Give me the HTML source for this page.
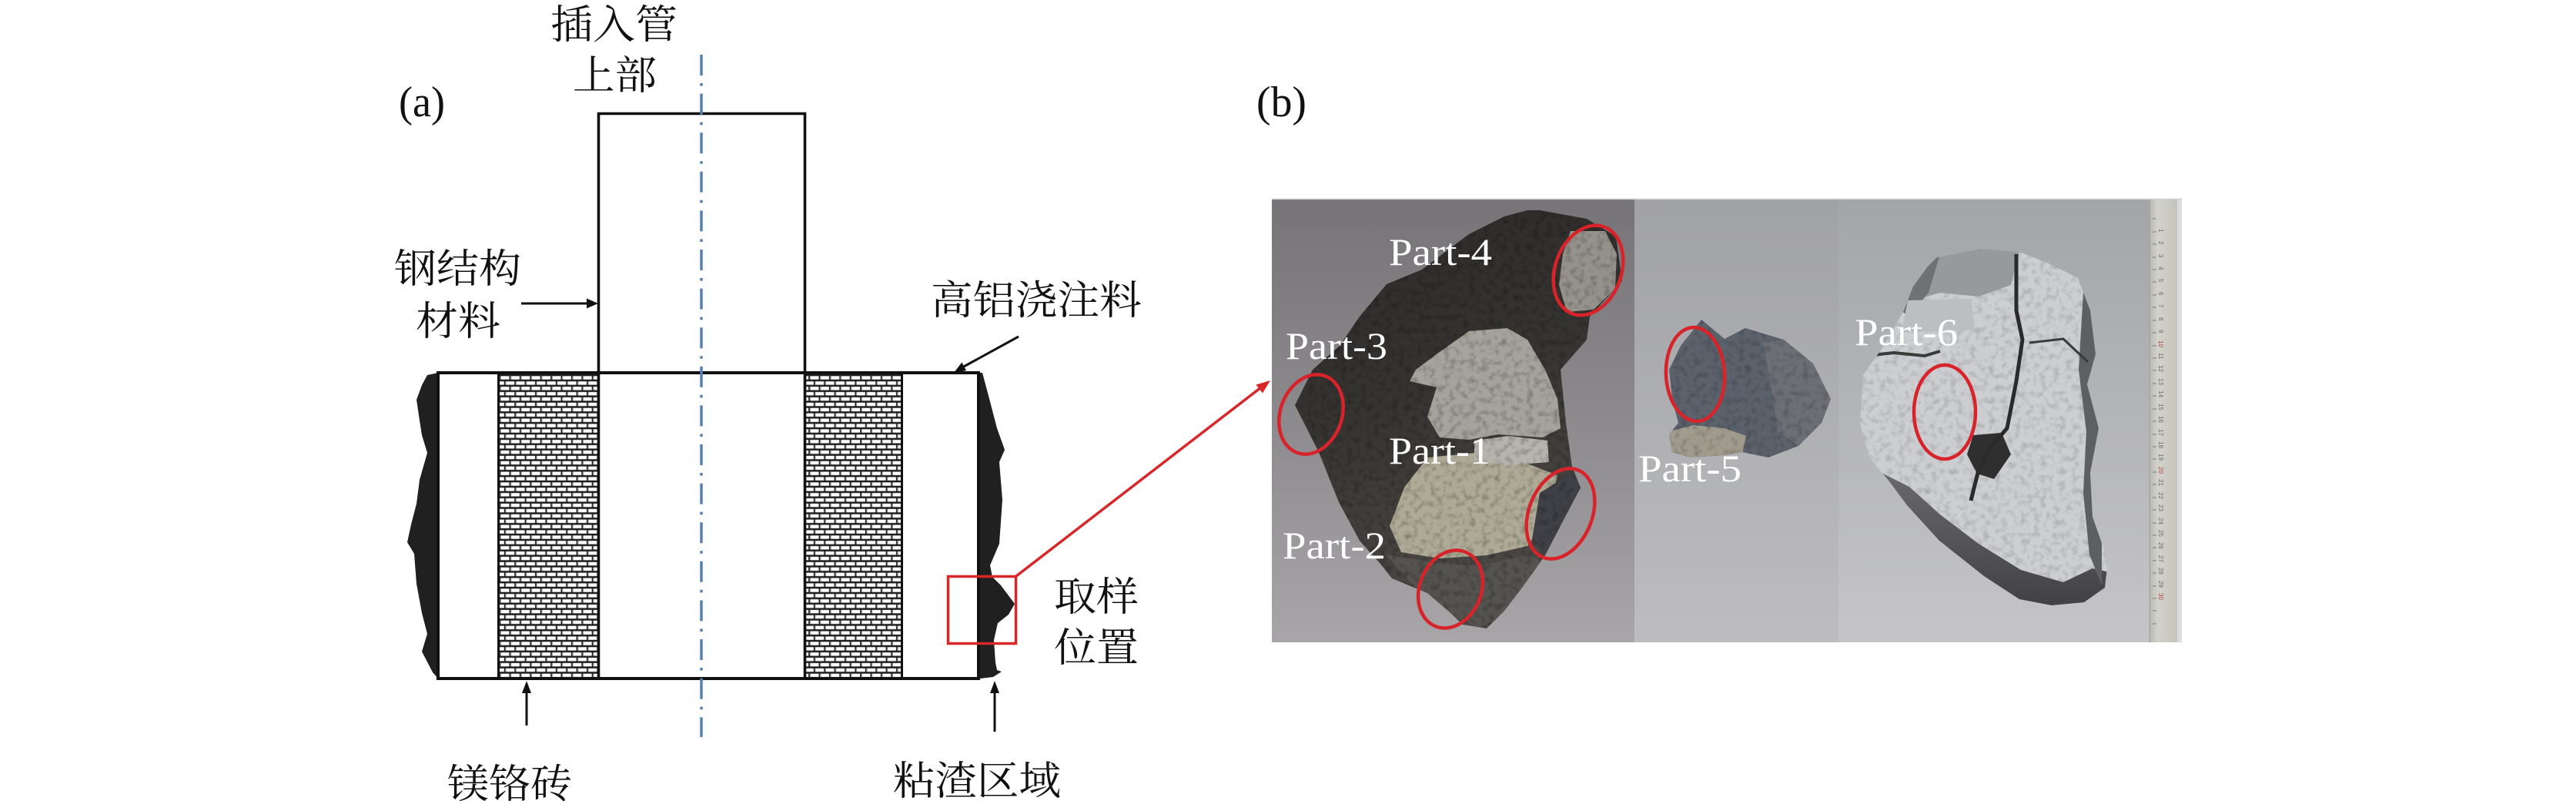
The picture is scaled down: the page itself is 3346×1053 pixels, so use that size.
<!DOCTYPE html>
<html><head><meta charset="utf-8"><style>
html,body{margin:0;padding:0;background:#fff;}
svg{display:block;}
.cjk{font-family:"Noto Serif CJK SC","Noto Serif CJK JP","Liberation Serif",serif;font-size:52px;fill:#111;}
.lat{font-family:"Liberation Serif",serif;font-size:56px;fill:#111;}
.part{font-family:"Liberation Serif",serif;font-size:50px;fill:#fff;}
.rn{font-family:"Liberation Sans",sans-serif;font-size:8px;fill:#6a6a66;}
</style></head><body>
<svg width="3346" height="1053" viewBox="0 0 3346 1053" xmlns="http://www.w3.org/2000/svg">
<defs>
  <pattern id="brick" patternUnits="userSpaceOnUse" x="649" y="487" width="13.4" height="13.8">
    <rect x="0" y="0" width="13.4" height="13.8" fill="#1e1e1e"/>
    <rect x="1.6" y="1.3" width="10.9" height="4.4" fill="#ffffff"/>
    <rect x="0.6" y="1.3" width="1.2" height="4.4" fill="#9a9a9a"/>
    <rect x="-5.1" y="8.2" width="10.9" height="4.4" fill="#ffffff"/>
    <rect x="8.3" y="8.2" width="10.9" height="4.4" fill="#ffffff"/>
    <rect x="7.3" y="8.2" width="1.2" height="4.4" fill="#9a9a9a"/>
  </pattern>
  <linearGradient id="gL" x1="0" y1="0" x2="0" y2="1">
    <stop offset="0" stop-color="#767477"/>
    <stop offset="0.5" stop-color="#8c8a8d"/>
    <stop offset="1" stop-color="#a8a6a8"/>
  </linearGradient>
  <linearGradient id="gM" x1="0" y1="0" x2="0" y2="1">
    <stop offset="0" stop-color="#a1a2a6"/>
    <stop offset="1" stop-color="#bdbdbf"/>
  </linearGradient>
  <linearGradient id="gR" x1="0" y1="0" x2="0" y2="1">
    <stop offset="0" stop-color="#a3a5a9"/>
    <stop offset="1" stop-color="#c5c5c7"/>
  </linearGradient>
  <linearGradient id="gRock" x1="0" y1="0" x2="0.3" y2="1">
    <stop offset="0" stop-color="#2c2a28"/>
    <stop offset="0.5" stop-color="#363431"/>
    <stop offset="1" stop-color="#4c4946"/>
  </linearGradient>
  <linearGradient id="gRBot" x1="0" y1="0" x2="0" y2="1">
    <stop offset="0" stop-color="#6a6a6c"/>
    <stop offset="1" stop-color="#3e3e40"/>
  </linearGradient>
  <linearGradient id="gRuler" x1="0" y1="0" x2="1" y2="0">
    <stop offset="0" stop-color="#b9b9b3"/>
    <stop offset="0.3" stop-color="#d2d2cb"/>
    <stop offset="1" stop-color="#c4c4bd"/>
  </linearGradient>
  <filter id="mott" x="0" y="0" width="1" height="1">
    <feTurbulence type="fractalNoise" baseFrequency="0.12" numOctaves="2" seed="7"/>
    <feColorMatrix type="matrix" values="0 0 0 0 0  0 0 0 0 0  0 0 0 0 0  0 0 0 -2.2 1.2"/>
  </filter>
  <clipPath id="cRockL"><polygon points="2000,273 2061,284 2099,307 2107,365 2065,411 2061,441 2027,480 2034,549 2042,606 2053,633 2023,690 2007,721 1977,763 1954,793 1931,816 1900,811 1881,793 1854,770 1808,751 1793,732 1766,702 1739,652 1713,587 1682,526 1705,480 1740,449 1766,411 1801,369 1847,350 1908,304 1954,281 1984,273"/></clipPath>
  <clipPath id="cRockR"><polygon points="2516,334 2573,323 2623,327 2661,342 2699,361 2715,403 2722,460 2711,499 2726,556 2715,614 2718,671 2738,728 2734,763 2707,782 2665,786 2623,778 2577,748 2519,702 2477,656 2454,625 2428,594 2416,549 2420,487 2447,449 2473,403 2485,372 2504,346"/></clipPath>
  <clipPath id="cRockM"><polygon points="2210,415 2240,440 2267,426 2317,441 2355,472 2378,518 2366,549 2336,579 2297,594 2263,587 2240,591 2195,594 2172,587 2168,564 2180,549 2172,518 2168,480 2183,449"/></clipPath>
</defs>

<rect width="3346" height="1053" fill="#fff"/>

<!-- ========== (a) diagram ========== -->
<text class="lat" x="518" y="151" textLength="60" lengthAdjust="spacingAndGlyphs">(a)</text>

<text class="cjk" x="715" y="50" textLength="165" lengthAdjust="spacingAndGlyphs">插入管</text>
<text class="cjk" x="744" y="116" textLength="109" lengthAdjust="spacingAndGlyphs">上部</text>
<text class="cjk" x="512" y="367" textLength="165" lengthAdjust="spacingAndGlyphs">钢结构</text>
<text class="cjk" x="540" y="435" textLength="110" lengthAdjust="spacingAndGlyphs">材料</text>
<text class="cjk" x="1209" y="408" textLength="274" lengthAdjust="spacingAndGlyphs">高铝浇注料</text>
<text class="cjk" x="1369" y="793" textLength="110" lengthAdjust="spacingAndGlyphs">取样</text>
<text class="cjk" x="1369" y="859" textLength="110" lengthAdjust="spacingAndGlyphs">位置</text>
<text class="cjk" x="581" y="1036" textLength="162" lengthAdjust="spacingAndGlyphs">镁铬砖</text>
<text class="cjk" x="1160" y="1032" textLength="218" lengthAdjust="spacingAndGlyphs">粘渣区域</text>

<!-- brick columns -->
<rect x="649" y="486" width="127" height="393" fill="url(#brick)"/>
<rect x="1047" y="486" width="123" height="393" fill="url(#brick)"/>

<!-- slag -->
<polygon fill="#202020" points="569,484 555,487 548,500 541,519 545,546 548,565 555,588 545,623 541,654 534,681 529,704 538,719 541,758 548,796 555,823 548,846 562,873 569,881"/>
<polygon fill="#202020" points="1271,484 1276,484 1283,510 1295,556 1305,584 1298,600 1302,649 1298,706 1286,734 1289,749 1300,760 1318,784 1310,798 1296,809 1291,831 1293,860 1295,870 1301,872 1290,879 1273,881 1271,881"/>

<!-- main box -->
<rect x="569" y="484" width="702" height="397" fill="none" stroke="#111" stroke-width="4"/>
<!-- tube -->
<polyline points="777.5,881 777.5,147.5 1045.5,147.5 1045.5,881" fill="none" stroke="#111" stroke-width="3.6"/>
<line x1="647.5" y1="484" x2="647.5" y2="881" stroke="#111" stroke-width="3"/>
<line x1="1171.5" y1="484" x2="1171.5" y2="881" stroke="#111" stroke-width="3"/>

<!-- axis -->
<line x1="911" y1="71" x2="911" y2="957" stroke="#5380b6" stroke-width="3.5" stroke-dasharray="27 10 3.6 10"/>

<!-- black arrows -->
<line x1="677" y1="394" x2="764" y2="394" stroke="#111" stroke-width="3"/>
<polygon points="762,387.5 777,394 762,400.5" fill="#111"/>
<line x1="1323" y1="437" x2="1250" y2="477" stroke="#111" stroke-width="3"/>
<polygon points="1239,484 1255.1,481.1 1249.3,470.5" fill="#111"/>
<line x1="684" y1="942" x2="684" y2="897" stroke="#111" stroke-width="3"/>
<polygon points="684,884 678,900 690,900" fill="#111"/>
<line x1="1292" y1="950" x2="1292" y2="897" stroke="#111" stroke-width="3"/>
<polygon points="1292,884 1286,900 1298,900" fill="#111"/>

<!-- sample box + red arrow -->
<rect x="1231.5" y="748.5" width="88" height="87" fill="none" stroke="#d7272b" stroke-width="3.5"/>
<line x1="1320" y1="748" x2="1638" y2="503" stroke="#d7272b" stroke-width="3.5"/>
<polygon points="1650,494 1640,510.5 1631.4,499.5" fill="#d7272b"/>

<!-- ========== (b) photo ========== -->
<text class="lat" x="1632" y="151" textLength="65" lengthAdjust="spacingAndGlyphs">(b)</text>

<rect x="1652" y="258" width="1182" height="576" fill="#dcdcdc"/>
<rect x="1652" y="259" width="471" height="575" fill="url(#gL)"/>
<rect x="2123" y="259" width="265" height="575" fill="url(#gM)"/>
<rect x="2388" y="259" width="404" height="575" fill="url(#gR)"/>
<rect x="2792" y="259" width="36" height="575" fill="url(#gRuler)"/>
<line x1="2792.5" y1="259" x2="2792.5" y2="834" stroke="#a5a5a0" stroke-width="1.5"/>
<line x1="1652" y1="258.5" x2="2834" y2="258.5" stroke="#cfcfcf" stroke-width="1.5"/>

<!-- ruler marks -->
<g stroke="#7a7a74" stroke-width="1">
  <line x1="2796" y1="284" x2="2800" y2="284"/><line x1="2796" y1="301" x2="2801" y2="301"/><line x1="2796" y1="317" x2="2801" y2="317"/><line x1="2796" y1="334" x2="2801" y2="334"/><line x1="2796" y1="350" x2="2801" y2="350"/><line x1="2796" y1="366" x2="2801" y2="366"/><line x1="2796" y1="383" x2="2801" y2="383"/><line x1="2796" y1="399" x2="2801" y2="399"/><line x1="2796" y1="416" x2="2801" y2="416"/><line x1="2796" y1="432" x2="2801" y2="432"/><line x1="2796" y1="449" x2="2801" y2="449"/><line x1="2796" y1="465" x2="2801" y2="465"/><line x1="2796" y1="481" x2="2801" y2="481"/><line x1="2796" y1="498" x2="2801" y2="498"/><line x1="2796" y1="514" x2="2801" y2="514"/><line x1="2796" y1="531" x2="2801" y2="531"/><line x1="2796" y1="547" x2="2801" y2="547"/><line x1="2796" y1="564" x2="2801" y2="564"/><line x1="2796" y1="580" x2="2801" y2="580"/><line x1="2796" y1="596" x2="2801" y2="596"/><line x1="2796" y1="613" x2="2801" y2="613"/><line x1="2796" y1="629" x2="2801" y2="629"/><line x1="2796" y1="646" x2="2801" y2="646"/><line x1="2796" y1="662" x2="2801" y2="662"/><line x1="2796" y1="679" x2="2801" y2="679"/><line x1="2796" y1="695" x2="2801" y2="695"/><line x1="2796" y1="711" x2="2801" y2="711"/><line x1="2796" y1="728" x2="2801" y2="728"/><line x1="2796" y1="744" x2="2801" y2="744"/><line x1="2796" y1="761" x2="2801" y2="761"/><line x1="2796" y1="777" x2="2801" y2="777"/><line x1="2796" y1="793" x2="2801" y2="793"/><line x1="2796" y1="810" x2="2801" y2="810"/>
</g>
<g class="rn">
  <text transform="translate(2804,297) rotate(90)">1</text><text transform="translate(2804,313) rotate(90)">2</text><text transform="translate(2804,330) rotate(90)">3</text><text transform="translate(2804,346) rotate(90)">4</text><text transform="translate(2804,362) rotate(90)">5</text><text transform="translate(2804,379) rotate(90)">6</text><text transform="translate(2804,395) rotate(90)">7</text><text transform="translate(2804,412) rotate(90)">8</text><text transform="translate(2804,428) rotate(90)">9</text>
  <text transform="translate(2804,442) rotate(90)" style="fill:#b0403c">10</text><text transform="translate(2804,458) rotate(90)">11</text><text transform="translate(2804,474) rotate(90)">12</text><text transform="translate(2804,491) rotate(90)">13</text><text transform="translate(2804,507) rotate(90)">14</text><text transform="translate(2804,524) rotate(90)">15</text><text transform="translate(2804,540) rotate(90)">16</text><text transform="translate(2804,557) rotate(90)">17</text><text transform="translate(2804,573) rotate(90)">18</text><text transform="translate(2804,589) rotate(90)">19</text>
  <text transform="translate(2804,606) rotate(90)" style="fill:#b0403c">20</text><text transform="translate(2804,622) rotate(90)">21</text><text transform="translate(2804,639) rotate(90)">22</text><text transform="translate(2804,655) rotate(90)">23</text><text transform="translate(2804,672) rotate(90)">24</text><text transform="translate(2804,688) rotate(90)">25</text><text transform="translate(2804,704) rotate(90)">26</text><text transform="translate(2804,721) rotate(90)">27</text><text transform="translate(2804,737) rotate(90)">28</text><text transform="translate(2804,754) rotate(90)">29</text>
  <text transform="translate(2804,770) rotate(90)" style="fill:#b0403c">30</text>
</g>

<!-- left rock -->
<polygon fill="url(#gRock)" points="2000,273 2061,284 2099,307 2107,365 2065,411 2061,441 2027,480 2034,549 2042,606 2053,633 2023,690 2007,721 1977,763 1954,793 1931,816 1900,811 1881,793 1854,770 1808,751 1793,732 1766,702 1739,652 1713,587 1682,526 1705,480 1740,449 1766,411 1801,369 1847,350 1908,304 1954,281 1984,273"/>
<g clip-path="url(#cRockL)">
  <polygon fill="#a5a39b" points="1870,457 1908,430 1958,426 1984,441 2007,480 2023,518 2027,556 2004,568 1946,564 1908,571 1870,568 1854,541 1866,503 1831,495 1839,480"/>
  <polygon fill="#aeaa96" points="1854,594 1927,587 1984,602 2023,617 2011,671 1984,709 1931,721 1870,725 1820,717 1805,683 1824,633"/>
  <polygon fill="#b6b4ac" points="1915,572 1960,566 2010,572 2012,600 1960,604 1915,598"/>
  <polygon fill="#94928a" points="2040,300 2085,300 2100,330 2098,375 2070,402 2035,405 2025,370 2030,330"/>
  <polygon fill="#55534f" points="1800,720 1860,730 1920,735 1990,720 2010,740 1960,800 1920,815 1880,795 1840,765"/>
  <polygon fill="#3f4146" points="2000,640 2040,615 2053,633 2030,690 2005,720 1990,700"/>
  <rect x="1652" y="258" width="480" height="580" filter="url(#mott)" opacity="0.25"/>
</g>

<!-- middle rock -->
<polygon fill="#5b626c" points="2210,415 2240,440 2267,426 2317,441 2355,472 2378,518 2366,549 2336,579 2297,594 2263,587 2240,591 2195,594 2172,587 2168,564 2180,549 2172,518 2168,480 2183,449"/>
<g clip-path="url(#cRockM)">
  <polygon fill="#6c6f75" points="2290,445 2317,441 2355,472 2378,518 2366,549 2336,579 2310,560 2300,500"/>
  <polygon fill="#a19b8d" points="2168,560 2200,552 2240,556 2268,566 2263,590 2240,594 2195,598 2168,590"/>
  <rect x="2160" y="410" width="230" height="190" filter="url(#mott)" opacity="0.2"/>
</g>

<!-- right rock -->
<polygon fill="#cdced1" points="2516,334 2573,323 2623,327 2661,342 2699,361 2715,403 2722,460 2711,499 2726,556 2715,614 2718,671 2738,728 2734,763 2707,782 2665,786 2623,778 2577,748 2519,702 2477,656 2454,625 2428,594 2416,549 2420,487 2447,449 2473,403 2485,372 2504,346"/>
<g clip-path="url(#cRockR)">
  <rect x="2400" y="300" width="360" height="500" filter="url(#mott)" opacity="0.16"/>
  <polygon fill="#98999c" points="2480,340 2573,318 2623,327 2612,370 2570,385 2520,380 2478,392"/>
  <polygon fill="#707174" points="2470,330 2520,330 2505,380 2480,410 2462,400"/>
  <polygon fill="#bdbec2" points="2478,390 2560,388 2565,428 2470,432"/>
  <polygon fill="url(#gRBot)" points="2440,612 2480,632 2520,668 2570,706 2625,740 2680,756 2718,738 2745,744 2740,800 2400,800 2400,612"/>
  <polygon fill="#2f2f30" points="2563,565 2600,562 2612,590 2590,622 2568,615 2555,590"/>
  <polygon fill="#5e5f63" points="2706,380 2730,380 2730,760 2714,720 2706,640 2710,560 2700,480"/>
  <polyline fill="none" stroke="#2a2a2b" stroke-width="5" points="2619,330 2619,403 2627,441 2619,495 2607,556 2584,583 2569,614 2560,650"/>
  <polyline fill="none" stroke="#3a3a3b" stroke-width="4" points="2422,462 2460,458 2500,462 2520,456"/>
  <polyline fill="none" stroke="#3a3a3b" stroke-width="3" points="2636,445 2680,440 2712,470"/>
</g>

<!-- red ellipses -->
<g fill="none" stroke="#d8232a" stroke-width="4.5">
  <ellipse cx="2063" cy="351" rx="43" ry="60" transform="rotate(20 2063 351)"/>
  <ellipse cx="1703" cy="538" rx="40" ry="53" transform="rotate(20 1703 538)"/>
  <ellipse cx="2027" cy="667" rx="41" ry="61" transform="rotate(22 2027 667)"/>
  <ellipse cx="1884" cy="765" rx="40" ry="52" transform="rotate(22 1884 765)"/>
  <ellipse cx="2202" cy="486" rx="38" ry="61" transform="rotate(-3 2202 486)"/>
  <ellipse cx="2526" cy="535" rx="40" ry="61"/>
</g>

<!-- part labels -->
<text class="part" x="1804" y="344" textLength="134" lengthAdjust="spacingAndGlyphs">Part-4</text>
<text class="part" x="1670" y="466" textLength="132" lengthAdjust="spacingAndGlyphs">Part-3</text>
<text class="part" x="1804" y="602" textLength="132" lengthAdjust="spacingAndGlyphs">Part-1</text>
<text class="part" x="1666" y="725" textLength="134" lengthAdjust="spacingAndGlyphs">Part-2</text>
<text class="part" x="2128" y="625" textLength="134" lengthAdjust="spacingAndGlyphs">Part-5</text>
<text class="part" x="2409" y="448" textLength="134" lengthAdjust="spacingAndGlyphs">Part-6</text>
</svg>
</body></html>
